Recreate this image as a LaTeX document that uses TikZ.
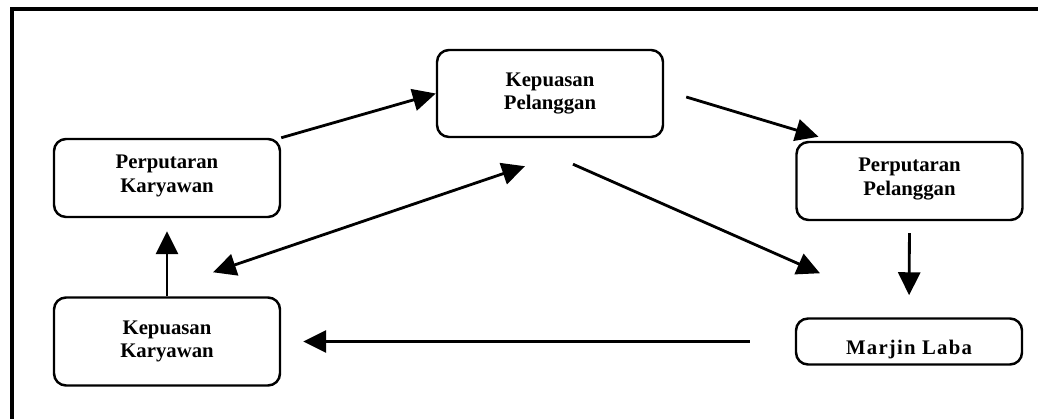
\documentclass[tikz,border=0pt]{standalone}
\usepackage{fontspec}
\setmainfont{Liberation Serif}
\usepackage{tikz}
\usetikzlibrary{arrows.meta,calc}

\tikzset{
	kotak/.style={draw,line width=1.4pt,rounded corners=0.24cm,minimum width=4.52cm,align=center,
		font=\fontsize{11.8}{13.5}\selectfont\bfseries},
	panah/.style={line width=1.6pt,-{Triangle[length=0.46cm,width=0.44cm]}}
}

\begin{document}
\begin{tikzpicture}
			\useasboundingbox (0,0) rectangle (20.76,-8.38);
			\draw[line width=1.8pt] (0.24,-8.38) -- (0.24,-0.18) -- (20.76,-0.18);
			\node[kotak,minimum height=1.74cm] (kp) at (11.0,-1.87) {Kepuasan\\Pelanggan};
			\node[kotak,minimum height=1.56cm,text height=19pt] (pk) at (3.34,-3.56) {Perputaran\\Karyawan};
			\node[kotak,minimum height=1.56cm,text height=19pt] (pp) at (18.19,-3.62) {Perputaran\\Pelanggan};
			\node[kotak,minimum height=1.76cm] (kk) at (3.34,-6.83) {Kepuasan\\Karyawan};
			\node[kotak,minimum height=0.92cm,text height=17pt,text depth=2pt] (ml) at (18.18,-6.83)
				{\addfontfeatures{LetterSpace=6}Marjin Laba};
			\draw[panah] (pk.north east) -- (kp.west);
			\draw[panah,{Triangle[length=0.46cm,width=0.44cm]}-{Triangle[length=0.46cm,width=0.44cm]}]
				([shift={(-0.5,-0.56)}]kp.south) -- ([shift={(0.92,0.48)}]kk.north);
			\draw[panah] ([shift={(0.44,-0.07)}]kp.east) -- ([shift={(-1.82,0.08)}]pp.north);
			\draw[panah] ([shift={(0.46,-0.52)}]kp.south) -- ([shift={(-1.78,0.88)}]ml.north);
			\draw[panah,shorten <=0.24cm,shorten >=0.44cm] (pp.south) -- (ml.north);
			\draw[panah,shorten <=0.9cm,shorten >=0.44cm] (ml.west) -- (kk.east);
			\draw[panah,shorten >=0.26cm] (kk.north) -- (pk.south);
		\end{tikzpicture}
\end{document}
